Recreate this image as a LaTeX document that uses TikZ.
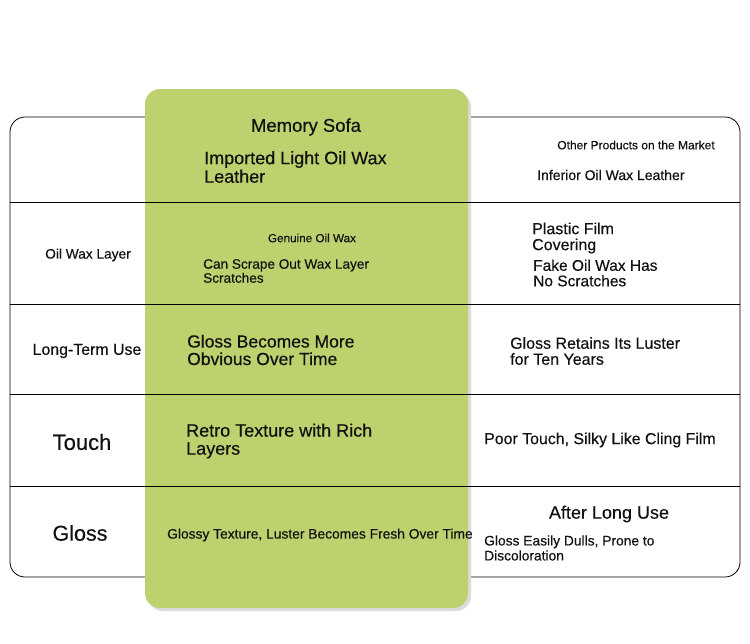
\documentclass[tikz,border=0pt]{standalone}
\usepackage{fontspec}
\setmainfont{Liberation Sans}[FakeBold=0.35]
\usepackage{xcolor}
\definecolor{sofagreen}{HTML}{BDD16E}
\definecolor{inkblack}{HTML}{111111}

\begin{document}
\begin{tikzpicture}[x=1pt,y=-1pt]
	\tikzstyle{cell} = [text=inkblack, inner sep=0pt, align=left, anchor=west]
	\tikzstyle{title} = [text=inkblack, inner sep=0pt, align=center]
	\tikzstyle{rowline} = [draw=black, line width=0.8pt]
	\useasboundingbox (0,0) rectangle (750,643);
	% outer table
	\draw [rowline, rounded corners=15pt] (10,117) rectangle (740,577);
	% green column
	\fill [black!14, rounded corners=15pt] (148,92) rectangle (471,611);
	\fill [sofagreen, rounded corners=15pt] (145,89) rectangle (468,608);
	% row dividers
	\draw [rowline] (10,202) -- (740,202);
	\draw [rowline] (10,304) -- (740,304);
	\draw [rowline] (10,394) -- (740,394);
	\draw [rowline] (10,486) -- (740,486);
	% header row
	\node [title, font=\fontsize{18.5}{19}\selectfont] at (306,127) (memory) {Memory Sofa};
	\node [cell, font=\fontsize{18}{18.5}\selectfont] at (204,167) (imported) {Imported Light Oil Wax\\Leather};
	\node [title, font=\fontsize{12}{12}\selectfont] at (636,145) (other) {Other Products on the Market};
	\node [cell, font=\fontsize{14}{14}\selectfont] at (537,175) (inferior) {Inferior Oil Wax Leather};
	% oil wax layer row
	\node [title, font=\fontsize{13.7}{14}\selectfont] at (88,255) (oillayer) {Oil Wax Layer};
	\node [title, font=\fontsize{11.7}{12}\selectfont] at (312,238) (genuine) {Genuine Oil Wax};
	\node [cell, font=\fontsize{13.6}{14}\selectfont] at (203,271) (scrape) {Can Scrape Out Wax Layer\\Scratches};
	\node [cell, font=\fontsize{16}{16}\selectfont] at (532,238) (plastic) {Plastic Film\\Covering};
	\node [cell, font=\fontsize{15.5}{15.5}\selectfont] at (533,273) (fake) {Fake Oil Wax Has\\No Scratches};
	% long-term use row
	\node [title, font=\fontsize{15.9}{16}\selectfont] at (87,351) (longterm) {Long-Term Use};
	\node [cell, font=\fontsize{17.5}{17.5}\selectfont] at (187,350) (becomes) {Gloss Becomes More\\Obvious Over Time};
	\node [cell, font=\fontsize{16}{16}\selectfont] at (510,351) (retains) {Gloss Retains Its Luster\\for Ten Years};
	% touch row
	\node [title, font=\fontsize{22}{24}\selectfont] at (82,442) (touch) {Touch};
	\node [cell, font=\fontsize{18}{18}\selectfont] at (186,441) (retro) {Retro Texture with Rich\\Layers};
	\node [cell, font=\fontsize{15.9}{16}\selectfont] at (484,440) (poor) {Poor Touch, Silky Like Cling Film};
	% gloss row
	\node [title, font=\fontsize{21.5}{24}\selectfont] at (80,533) (gloss) {Gloss};
	\node [cell, font=\fontsize{13.8}{14}\selectfont] at (167,535) (glossy) {Glossy Texture, Luster Becomes Fresh Over Time};
	\node [title, font=\fontsize{18}{18}\selectfont] at (609,514) (afteruse) {After Long Use};
	\node [cell, font=\fontsize{13.8}{15}\selectfont] at (484,548) (dulls) {Gloss Easily Dulls, Prone to\\Discoloration};
\end{tikzpicture}
\end{document}
